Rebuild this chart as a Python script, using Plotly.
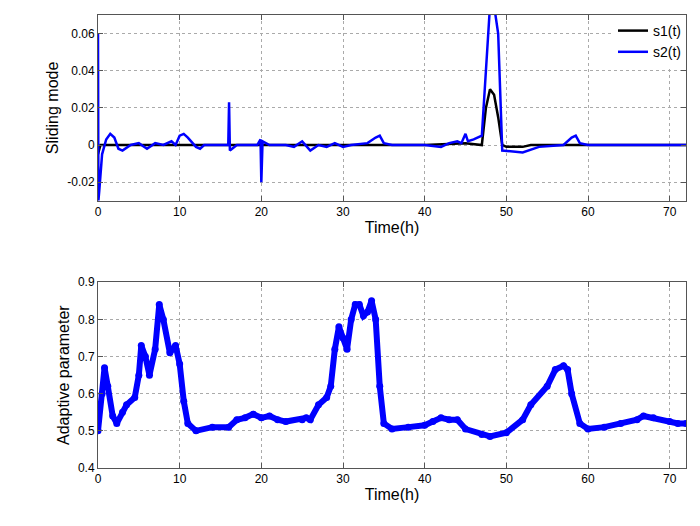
import plotly.graph_objects as go
from plotly.subplots import make_subplots

# sliding mode
t2 = [0, 0.05, 0.15, 0.5, 1, 1.5, 2, 2.5, 3, 4, 5, 6, 7, 8, 9, 9.5, 10, 10.5, 11, 12, 12.5, 13, 15,
      15.95, 16.05, 16.15, 17, 19.5, 19.9, 20.0, 20.15, 21, 23, 24, 25, 26, 27, 28, 29, 30, 31, 33,
      34, 34.5, 35, 36, 40, 42, 43, 44, 44.5, 45, 45.3, 46, 47, 47.5, 48, 48.5, 49, 49.5, 52, 54, 57,
      58, 58.5, 59, 60, 65, 70, 72]
s2 = [0.06, -0.03, -0.025, -0.005, 0.003, 0.006, 0.004, -0.002, -0.003, 0, 0.001, -0.002, 0.001, 0,
      0.002, 0, 0.005, 0.006, 0.004, -0.001, -0.002, 0, 0,
      0, 0.023, -0.003, 0, 0, 0.003, -0.02, 0.002, 0, 0, -0.001, 0.002, -0.003, 0, -0.001, 0.001,
      -0.001, 0, 0.001, 0.004, 0.005, 0.001, 0, 0, -0.001, 0.001, 0.002, 0.001, 0.006, 0.002,
      0.003, 0.005, 0.04, 0.075, 0.075, 0.06, -0.003, -0.004, -0.001, 0, 0.004, 0.005, 0.001, 0,
      0, 0, 0]
t1 = [0, 0.3, 1, 10, 20, 30, 40, 45, 47, 47.5, 48, 48.5, 49, 49.5, 50, 52, 53, 72]
s1 = [-0.005, 0, 0, 0, 0, 0, 0, 0.001, 0, 0.02, 0.03, 0.027, 0.015, 0, -0.001, -0.001, 0, 0]

# adaptive parameter
ta = [0, 0.5, 0.8, 1.2, 1.8, 2.3, 3, 3.5, 4.5, 5, 5.3, 5.8, 6.3, 7, 7.5, 8, 8.8, 9.5, 10, 10.5, 11,
      12, 14, 16, 17, 18, 19, 20, 21, 22, 23, 25, 25.5, 26, 27, 28, 28.5, 29, 29.5, 30, 30.5, 31,
      31.5, 32, 32.5, 33, 33.5, 34, 34.5, 35, 36, 38, 40, 41, 42, 43, 44, 45, 47, 48, 50, 52, 53,
      55, 56, 57, 57.5, 58, 59, 60, 62, 64, 66, 66.8, 68, 70, 71, 72]
ap = [0.5, 0.6, 0.67, 0.62, 0.54, 0.52, 0.55, 0.57, 0.59, 0.65, 0.73, 0.7, 0.65, 0.72, 0.84, 0.8,
      0.71, 0.73, 0.68, 0.58, 0.52, 0.5, 0.51, 0.51, 0.53, 0.535, 0.545, 0.535, 0.54, 0.53, 0.525,
      0.53, 0.535, 0.53, 0.57, 0.59, 0.62, 0.72, 0.78, 0.75, 0.72, 0.8, 0.84, 0.84, 0.81, 0.82,
      0.85, 0.8, 0.62, 0.52, 0.505, 0.51, 0.515, 0.525, 0.535, 0.53, 0.53, 0.505, 0.49, 0.485,
      0.495, 0.53, 0.57, 0.62, 0.665, 0.675, 0.665, 0.6, 0.52, 0.505, 0.51, 0.52, 0.53, 0.54,
      0.535, 0.525, 0.52, 0.52]

fig = make_subplots(rows=2, cols=1, vertical_spacing=0.18)
fig.add_trace(go.Scatter(x=t1, y=s1, mode="lines", name="s1(t)",
                         line=dict(color="black", width=2.5)), 1, 1)
fig.add_trace(go.Scatter(x=t2, y=s2, mode="lines", name="s2(t)",
                         line=dict(color="blue", width=2.5)), 1, 1)
fig.add_trace(go.Scatter(x=ta, y=ap, mode="lines+markers", showlegend=False,
                         line=dict(color="blue", width=6),
                         marker=dict(color="blue", size=7)), 2, 1)

ax = dict(showline=True, mirror="ticks", linecolor="#555", ticks="inside", ticklen=5,
          tickcolor="#555", gridcolor="#aaa", griddash="dot", zeroline=False,
          tickfont=dict(size=12, color="black"))
fig.update_xaxes(range=[0, 72], dtick=10, title_text="Time(h)", title_standoff=0, **ax)
fig.update_yaxes(ax)
fig.update_yaxes(range=[-0.03, 0.07], tickvals=[-0.02, 0, 0.02, 0.04, 0.06],
                 ticktext=["-0.02", "0", "0.02", "0.04", "0.06"],
                 title_text="Sliding mode", title_standoff=4, row=1, col=1)
fig.update_yaxes(range=[0.4, 0.9], dtick=0.1, tickformat=".1f",
                 title_text="Adaptive parameter", title_standoff=4, row=2, col=1)
fig.update_layout(width=700, height=526, plot_bgcolor="white", paper_bgcolor="white",
                  margin=dict(l=90, r=22, t=0, b=66),
                  font=dict(family="Arial, Liberation Sans", size=13, color="black"),
                  legend=dict(x=1, y=1, xanchor="right", yanchor="top",
                              bgcolor="white", font=dict(size=14)))
fig.write_html("out.html")
